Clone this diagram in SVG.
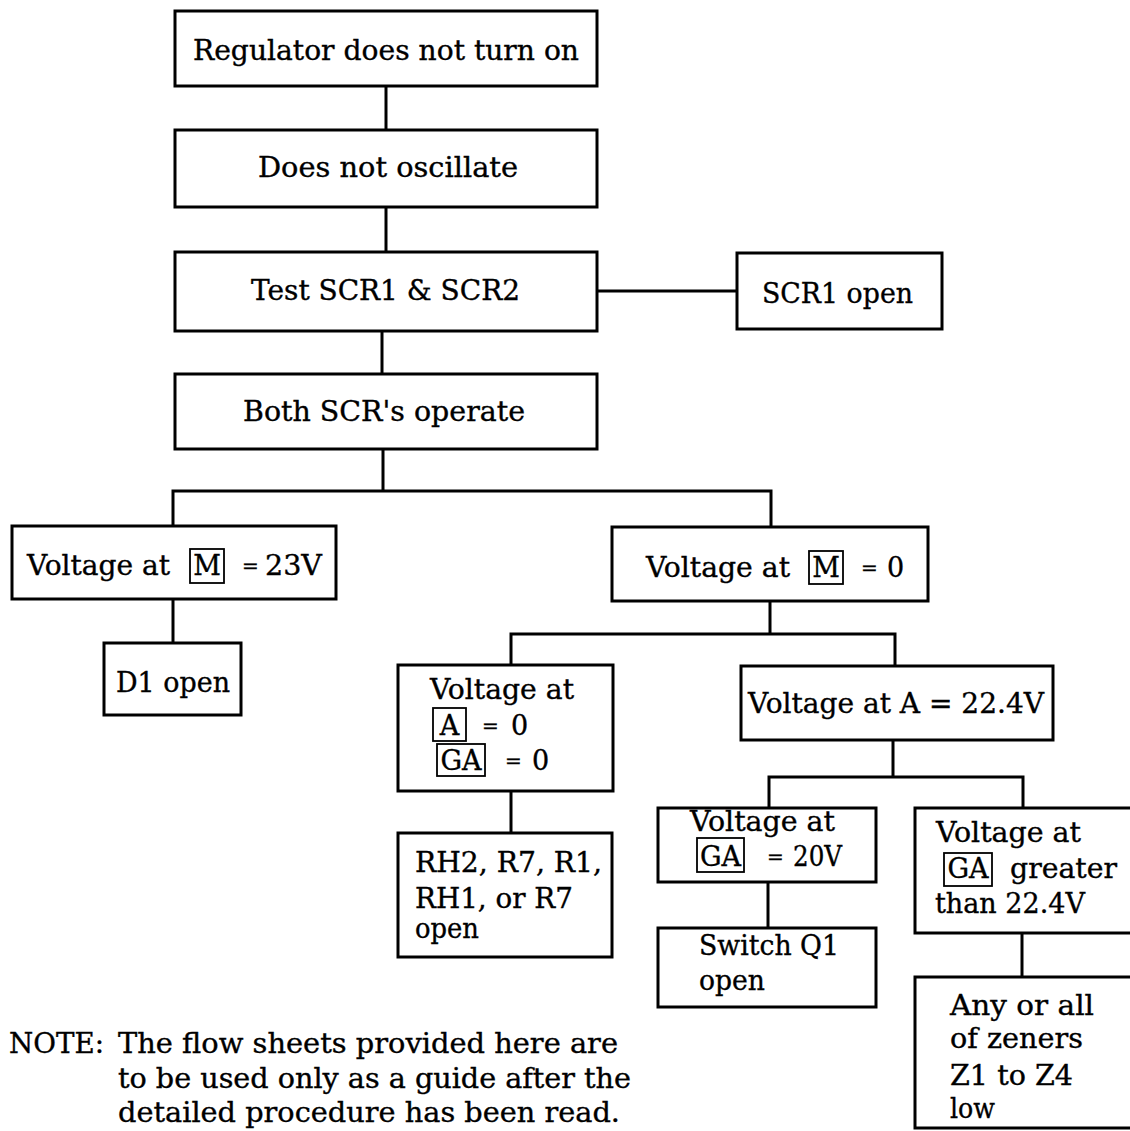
<svg xmlns="http://www.w3.org/2000/svg" width="1130" height="1131" viewBox="0 0 1130 1131">
<style>
.box{fill:#fff;stroke:#000;stroke-width:3}
.tag{fill:none;stroke:#000;stroke-width:1.8}
.con{fill:none;stroke:#000;stroke-width:3}
.t{font-family:"DejaVu Serif","Liberation Serif",serif;font-size:27px;fill:#000;stroke:#000;stroke-width:0.35}
.eq{font-family:"DejaVu Serif","Liberation Serif",serif;font-size:20px;fill:#000;stroke:#000;stroke-width:0.35}
.c{text-anchor:middle}
</style>
<rect width="1130" height="1131" fill="#fff"/>
<g id="connectors">
<path class="con" d="M386,86V130"/>
<path class="con" d="M386,207V252"/>
<path class="con" d="M597,291H737"/>
<path class="con" d="M382,331V374"/>
<path class="con" d="M383,449V491M173,526V491H771V527"/>
<path class="con" d="M173,599V643"/>
<path class="con" d="M770,601V634M511,665V634H895V666"/>
<path class="con" d="M511,791V833"/>
<path class="con" d="M893,740V777M769,808V777H1023V808"/>
<path class="con" d="M768,882V928"/>
<path class="con" d="M1022,933V977"/>
</g>
<g id="n1"><rect class="box" x="175" y="11" width="422" height="75"/><text class="t" x="193" y="60" textLength="386" lengthAdjust="spacingAndGlyphs">Regulator does not turn on</text></g>
<g id="n2"><rect class="box" x="175" y="130" width="422" height="77"/><text class="t" x="258" y="177" textLength="260" lengthAdjust="spacingAndGlyphs">Does not oscillate</text></g>
<g id="n3"><rect class="box" x="175" y="252" width="422" height="79"/><text class="t" x="251" y="300" textLength="269" lengthAdjust="spacingAndGlyphs">Test SCR1 &amp; SCR2</text></g>
<g id="n4"><rect class="box" x="737" y="253" width="205" height="76"/><text class="t" x="762" y="303" textLength="151" lengthAdjust="spacingAndGlyphs">SCR1 open</text></g>
<g id="n5"><rect class="box" x="175" y="374" width="422" height="75"/><text class="t" x="243" y="421" textLength="282" lengthAdjust="spacingAndGlyphs">Both SCR's operate</text></g>
<g id="n6"><rect class="box" x="12" y="526" width="324" height="73"/>
<text class="t" x="27" y="575" textLength="143" lengthAdjust="spacingAndGlyphs">Voltage at</text>
<rect class="tag" x="190" y="549" width="34" height="34"/><text class="t c" x="207" y="575">M</text>
<text class="eq" x="242" y="573">=</text>
<text class="t" x="265" y="575" textLength="57" lengthAdjust="spacingAndGlyphs">23V</text></g>
<g id="n7"><rect class="box" x="104" y="643" width="137" height="72"/><text class="t" x="116" y="692" textLength="114" lengthAdjust="spacingAndGlyphs">D1 open</text></g>
<g id="n8"><rect class="box" x="612" y="527" width="316" height="74"/>
<text class="t" x="646" y="577" textLength="144" lengthAdjust="spacingAndGlyphs">Voltage at</text>
<rect class="tag" x="809" y="551" width="34" height="33"/><text class="t c" x="826" y="577">M</text>
<text class="eq" x="861" y="575">=</text>
<text class="t" x="887" y="577">0</text></g>
<g id="n9"><rect class="box" x="398" y="665" width="215" height="126"/>
<text class="t" x="430" y="699" textLength="144" lengthAdjust="spacingAndGlyphs">Voltage at</text>
<rect class="tag" x="433" y="708" width="33" height="33"/><text class="t c" x="449.500" y="735">A</text>
<text class="eq" x="482" y="733">=</text>
<text class="t" x="511" y="735">0</text>
<rect class="tag" x="437" y="744" width="48" height="32"/><text class="t c" x="461" y="770">GA</text>
<text class="eq" x="505" y="768">=</text>
<text class="t" x="532" y="770">0</text></g>
<g id="n10"><rect class="box" x="741" y="666" width="312" height="74"/><text class="t" x="748" y="713" textLength="296" lengthAdjust="spacingAndGlyphs">Voltage at A = 22.4V</text></g>
<g id="n11"><rect class="box" x="398" y="833" width="214" height="124"/>
<text class="t" x="415" y="872" textLength="187" lengthAdjust="spacingAndGlyphs">RH2, R7, R1,</text>
<text class="t" x="415" y="908" textLength="158" lengthAdjust="spacingAndGlyphs">RH1, or R7</text>
<text class="t" x="415" y="938" textLength="64" lengthAdjust="spacingAndGlyphs">open</text></g>
<g id="n12"><rect class="box" x="658" y="808" width="218" height="74"/>
<text class="t" x="690" y="831" textLength="145" lengthAdjust="spacingAndGlyphs">Voltage at</text>
<rect class="tag" x="697" y="838" width="47" height="34"/><text class="t c" x="720.500" y="866">GA</text>
<text class="eq" x="767" y="864">=</text>
<text class="t" x="793" y="866" textLength="49" lengthAdjust="spacingAndGlyphs">20V</text></g>
<g id="n13"><rect class="box" x="658" y="928" width="218" height="79"/>
<text class="t" x="699" y="955" textLength="140" lengthAdjust="spacingAndGlyphs">Switch Q1</text>
<text class="t" x="699" y="990" textLength="66" lengthAdjust="spacingAndGlyphs">open</text></g>
<g id="n14"><rect class="box" x="915" y="808" width="222" height="125"/>
<text class="t" x="936" y="842" textLength="145" lengthAdjust="spacingAndGlyphs">Voltage at</text>
<rect class="tag" x="944" y="853" width="48" height="33"/><text class="t c" x="968" y="878">GA</text>
<text class="t" x="1010" y="878" textLength="107" lengthAdjust="spacingAndGlyphs">greater</text>
<text class="t" x="935" y="913" textLength="150" lengthAdjust="spacingAndGlyphs">than 22.4V</text></g>
<g id="n15"><rect class="box" x="915" y="977" width="222" height="151"/>
<text class="t" x="950" y="1015" textLength="144" lengthAdjust="spacingAndGlyphs">Any or all</text>
<text class="t" x="950" y="1048" textLength="133" lengthAdjust="spacingAndGlyphs">of zeners</text>
<text class="t" x="950" y="1085" textLength="123" lengthAdjust="spacingAndGlyphs">Z1 to Z4</text>
<text class="t" x="950" y="1118" textLength="45" lengthAdjust="spacingAndGlyphs">low</text></g>
<g id="note">
<text class="t" x="9" y="1053" textLength="95" lengthAdjust="spacingAndGlyphs">NOTE:</text>
<text class="t" x="118" y="1053" textLength="500" lengthAdjust="spacingAndGlyphs">The flow sheets provided here are</text>
<text class="t" x="118" y="1088" textLength="513" lengthAdjust="spacingAndGlyphs">to be used only as a guide after the</text>
<text class="t" x="118" y="1122" textLength="502" lengthAdjust="spacingAndGlyphs">detailed procedure has been read.</text>
</g>
</svg>
